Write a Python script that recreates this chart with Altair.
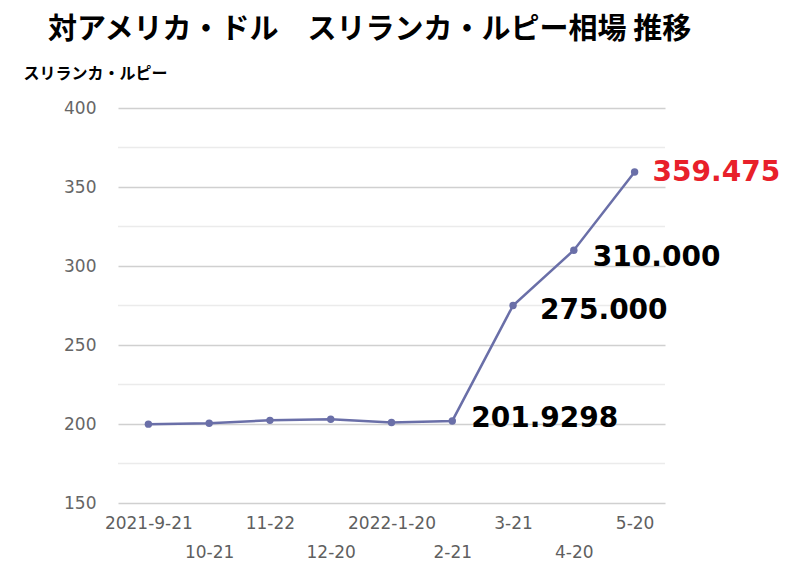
import altair as alt
import pandas as pd

dates = ["2021-9-21", "10-21", "11-22", "12-20", "2022-1-20", "2-21", "3-21", "4-20", "5-20"]
rates = [199.9, 200.5, 202.3, 203.0, 201.0, 201.9298, 275.0, 310.0, 359.475]
label_dates = ["2-21", "3-21", "4-20", "5-20"]
label_texts = ["201.9298", "275.000", "310.000", "359.475"]
label_colors = ["#000000", "#000000", "#000000", "#e8202a"]
major_ticks = [150, 200, 250, 300, 350, 400]
minor_ticks = [175, 225, 275, 325, 375]

df = pd.DataFrame({"date": dates, "rate": rates})
ldf = pd.DataFrame({
    "date": label_dates,
    "rate": [rates[dates.index(d)] for d in label_dates],
    "text": label_texts,
    "color": label_colors,
})
mdf = pd.DataFrame({"rate": minor_ticks})

second_row = dates[1::2]
label_expr = "indexof(" + str(second_row) + ", datum.label) >= 0 ? ['', datum.label] : datum.label"

yscale = alt.Scale(domain=[150, 400], nice=False, zero=False)
xscale = alt.Scale(type="point", padding=0.5)

yaxis = alt.Axis(values=major_ticks, title="スリランカ・ルピー", titleAngle=0,
                 titleAlign="left", titleBaseline="middle", titleX=-95, titleY=-35,
                 titleFont="Noto Sans CJK JP", titleFontSize=16, titleFontWeight="bold",
                 titleColor="#000000",
                 labelFont="DejaVu Sans", labelFontSize=17, labelColor="#666666",
                 labelPadding=22, domain=False, ticks=False,
                 gridColor="#d0d0d0", gridWidth=1.3)

x = alt.X("date:N", sort=dates, scale=xscale,
          axis=alt.Axis(title=None, labelAngle=0, domain=False, ticks=False,
                        labelFont="DejaVu Sans", labelFontSize=17, labelColor="#5f5f5f",
                        labelPadding=12, labelLineHeight=29, labelExpr=label_expr,
                        labelOverlap=False, grid=False))
y = alt.Y("rate:Q", scale=yscale, axis=yaxis)

minor = alt.Chart(mdf).mark_rule(color="#ebebeb", strokeWidth=1.3).encode(
    y=y, x=alt.value(0), x2=alt.value(547))
line = alt.Chart(df).mark_line(color="#6a6fa8", strokeWidth=2.5).encode(x=x, y=y)
pts = alt.Chart(df).mark_circle(color="#6a6fa8", size=55, opacity=1).encode(x=x, y=y)

offsets = {"2-21": (19, -2), "3-21": (27, 5), "4-20": (19, 8), "5-20": (18, 1)}
label_layers = []
for d, t, c in zip(label_dates, label_texts, label_colors):
    dx, dy = offsets[d]
    label_layers.append(
        alt.Chart(ldf[ldf["date"] == d]).mark_text(
            align="left", baseline="middle", dx=dx, dy=dy, font="DejaVu Sans",
            fontSize=28, fontWeight="bold", color=c
        ).encode(x=alt.X("date:N", sort=dates, scale=xscale),
                 y=y,
                 text="text:N")
    )

chart = alt.layer(minor, line, pts, *label_layers).properties(
    width=547, height=395,
    title=alt.TitleParams("対アメリカ・ドル　スリランカ・ルピー相場 推移", anchor="start",
                          frame="group", dx=-70, offset=20, font="Noto Sans CJK JP", fontSize=29,
                          fontWeight="bold", color="#000000"),
    autosize=alt.AutoSizeParams(type="none"),
    padding={"left": 110, "top": 100, "right": 120, "bottom": 60},
).configure_view(stroke=None)

chart.save("out.html", embed_options={"renderer": "svg", "actions": False})
